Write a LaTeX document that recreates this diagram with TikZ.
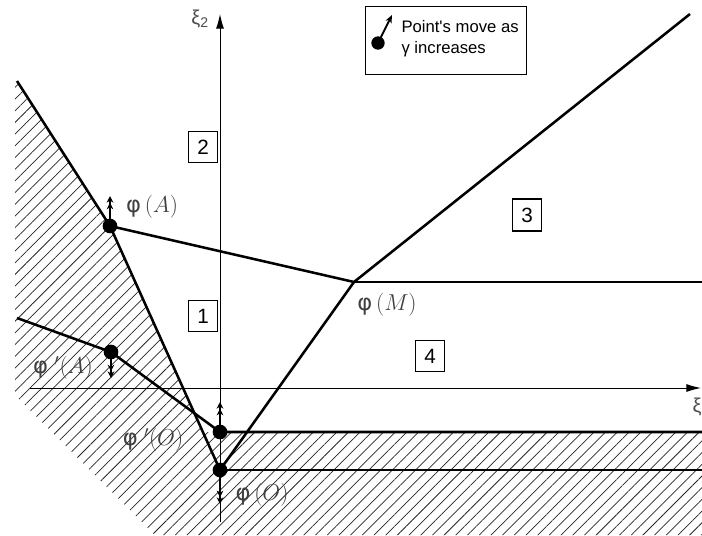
\documentclass[tikz,border=0pt]{standalone}
\usepackage{fontspec}
\newfontfamily\phifont{DejaVu Sans}
\newfontfamily\boxfont{Liberation Sans}
\usetikzlibrary{arrows.meta,patterns.meta}
\tikzset{every picture/.style={line width=0.75pt}}

\begin{document}
\begin{tikzpicture}[
                x=0.75pt,
                y=0.75pt,
                yscale=-1,
                xscale=1,
                heavy/.style={line width=1.9pt},
                axis/.style={line width=0.75pt,-{Latex[length=11pt,width=6pt]}},
                dot/.style={circle,fill=black,inner sep=0pt,minimum size=11pt},
                move/.style={line width=1.4pt,-{Stealth[length=5pt,width=5pt]Stealth[length=5pt,width=5pt]}},
                region/.style={draw,line width=0.9pt,inner xsep=6.5pt,inner ysep=6.5pt,font=\boxfont\fontsize{15.5}{18}\selectfont},
                plabel/.style={text=black!75,inner sep=0pt,font=\fontsize{17}{20}\selectfont},
                hatch/.style={pattern={Lines[angle=45,distance=6.2pt,line width=0.55pt]},pattern color=black!85}
            ]
                \useasboundingbox (0,0) rectangle (702,535);
                % points
                \coordinate (phiA) at (110,226);
                \coordinate (phiM) at (354,282);
                \coordinate (phiO) at (220,470);
                \coordinate (phiAp) at (111,352);
                \coordinate (phiOp) at (220,432);
                \coordinate (topL) at (17,81);
                \coordinate (topR) at (690,14);
                \coordinate (rightM) at (702,282);
                \coordinate (leftAp) at (17,318);
                \coordinate (rightOp) at (702,432);
                \coordinate (rightO) at (702,470);
                % hatched area
                \fill [hatch] (15,80) -- (phiA) -- (203.5,432) -- (rightOp) -- (702,535) -- (155,535) -- (15,395) -- cycle ;
                % axes
                \coordinate (xstart) at (30,388);
                \coordinate (xend) at (701,388);
                \coordinate (ystart) at (220,522);
                \coordinate (yend) at (220,14);
                \draw [axis] (xstart) -- (xend) ;
                \draw [axis] (ystart) -- (yend) ;
                \node [text=black!70,font=\boxfont\fontsize{15}{18}\selectfont,inner sep=0pt,anchor=west] (xilab) at (692,407) {ξ};
                \node [text=black!70,font=\boxfont\fontsize{15}{18}\selectfont,inner sep=0pt] (etalab) at (200,19) {ξ\textsubscript{2}};
                % boundaries
                \draw [heavy] (topL) -- (phiA) -- (phiO) ;
                \draw [heavy] (phiA) -- (phiM) -- (topR) ;
                \draw [heavy] (phiM) -- (rightM) ;
                \draw [heavy] (phiO) -- (phiM) ;
                \draw [heavy] (leftAp) -- (phiAp) -- (phiOp) -- (rightOp) ;
                \draw [heavy] (phiO) -- (rightO) ;
                % moves
                \coordinate (moveA) at (110,196);
                \coordinate (moveAp) at (111,378);
                \coordinate (moveOp) at (220,402);
                \coordinate (moveO) at (220,504);
                \draw [move] (phiA) -- (moveA) ;
                \draw [move] (phiAp) -- (moveAp) ;
                \draw [move] (phiOp) -- (moveOp) ;
                \draw [move] (phiO) -- (moveO) ;
                \node [dot] (dotA) at (phiA) {};
                \node [dot] (dotAp) at (phiAp) {};
                \node [dot] (dotOp) at (phiOp) {};
                \node [dot] (dotO) at (phiO) {};
                % labels
                \node [plabel] (labA) at (152,207) {{\phifont φ}\,$(A)$};
                \node [plabel] (labM) at (387,305) {{\phifont φ}\,$(M)$};
                \node [plabel] (labAp) at (63,368) {{\phifont φ}\;$'(A)$};
                \node [plabel] (labOp) at (153,440) {{\phifont φ}\;$'(O)$};
                \node [plabel] (labO) at (262,495) {{\phifont φ}\,$(O)$};
                % regions
                \node [region] (reg1) at (203,316) {1};
                \node [region] (reg2) at (203,147) {2};
                \node [region] (reg3) at (527,215) {3};
                \node [region] (reg4) at (430,356) {4};
                % legend
                \node [draw,line width=0.75pt,minimum width=120.75pt,minimum height=50.25pt] (legend) at (445.5,40.5) {};
                \node [dot,minimum size=10pt] (legdot) at (378,43) {};
                \coordinate (legtip) at (392,15);
                \draw [line width=1.4pt,-{Stealth[length=6pt,width=5pt]}] (legdot.center) -- (legtip) ;
                \node [anchor=north west,align=left,inner sep=0pt,font=\boxfont\fontsize{12.5}{15.75}\selectfont] (legtext) at (401,20) {Point's move as\\ γ increases};
            \end{tikzpicture}
\end{document}
